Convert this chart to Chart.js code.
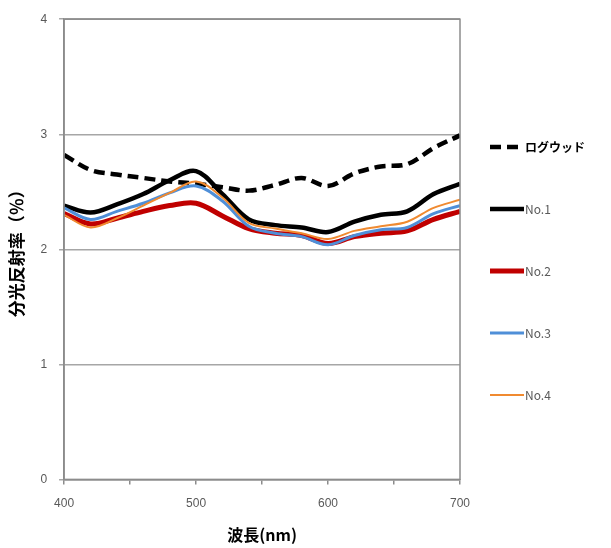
<!DOCTYPE html>
<html>
<head>
<meta charset="utf-8">
<script src="https://cdn.jsdelivr.net/npm/chart.js@4/dist/chart.umd.min.js"></script>
<style>
  html, body { margin: 0; padding: 0; background: #fff; }
  #wrap { width: 611px; height: 548px; }
</style>
</head>
<body>
<div id="wrap"><canvas id="myChart" width="611" height="548"></canvas></div>
<script>
// 波長 (nm), 20nm刻み
const wavelengths = [400, 420, 440, 460, 480, 500, 520, 540, 560, 580, 600, 620, 640, 660, 680, 700];
const seriesNames = ["ログウッド", "No.1", "No.2", "No.3", "No.4"];
const logwood = [2.82, 2.69, 2.65, 2.62, 2.59, 2.57, 2.54, 2.51, 2.56, 2.62, 2.55, 2.66, 2.72, 2.74, 2.88, 2.99];
const no1 = [2.38, 2.32, 2.39, 2.48, 2.60, 2.68, 2.48, 2.26, 2.21, 2.19, 2.15, 2.24, 2.30, 2.33, 2.48, 2.57];
const no2 = [2.31, 2.22, 2.27, 2.33, 2.38, 2.40, 2.29, 2.18, 2.14, 2.12, 2.05, 2.11, 2.14, 2.16, 2.26, 2.33];
const no3 = [2.36, 2.26, 2.33, 2.40, 2.49, 2.55, 2.42, 2.20, 2.14, 2.11, 2.04, 2.12, 2.17, 2.19, 2.31, 2.38];
const no4 = [2.30, 2.19, 2.27, 2.38, 2.49, 2.59, 2.45, 2.23, 2.18, 2.14, 2.09, 2.16, 2.20, 2.24, 2.36, 2.43];
const yTicks = [0, 1, 2, 3, 4];

const ctx = document.getElementById("myChart").getContext("2d");
const toXY = (arr) => arr.map((v, i) => ({ x: wavelengths[i], y: v }));

// 枠線 (プロットエリアの外周)
const frame = {
  id: "frame",
  afterDatasetsDraw(chart) {
    const a = chart.chartArea, c = chart.ctx;
    c.save();
    c.strokeStyle = "#8c8c8c";
    c.lineWidth = 1.5;
    c.strokeRect(a.left, a.top, a.right - a.left, a.bottom - a.top);
    c.restore();
  },
};

// 凡例 (右側に縦並び)
const sideLegend = {
  id: "sideLegend",
  afterDraw(chart) {
    const c = chart.ctx;
    const x0 = chart.chartArea.right + 30;
    chart.data.datasets.forEach((ds, i) => {
      const y = 147 + i * 62;
      c.save();
      c.strokeStyle = ds.borderColor;
      c.lineWidth = ds.borderWidth;
      c.setLineDash(ds.borderDash || []);
      c.beginPath();
      c.moveTo(x0, y);
      c.lineTo(x0 + 34, y);
      c.stroke();
      c.setLineDash([]);
      c.fillStyle = i === 0 ? "#000" : "#595959";
      c.font = (i === 0 ? "bold " : "") + "12px 'Noto Sans CJK JP', 'Liberation Sans'";
      c.textBaseline = "middle";
      c.fillText(ds.label, x0 + 35, y);
      c.restore();
    });
  },
};

const colors = ["#000000", "#000000", "#c00000", "#4f8fd8", "#f08a30"];
const widths = [4.5, 4.5, 5, 3, 2];
const dataArrays = [logwood, no1, no2, no3, no4];

const chart = new Chart(ctx, {
  type: "line",
  data: {
    datasets: seriesNames.map((name, i) => ({
      label: name,
      data: toXY(dataArrays[i]),
      borderColor: colors[i],
      backgroundColor: colors[i],
      borderWidth: widths[i],
      borderDash: i === 0 ? [11, 6] : [],
      pointRadius: 0,
      tension: 0.35,
      fill: false,
      order: 4 - i,
    })),
  },
  plugins: [frame, sideLegend],
  options: {
    responsive: false,
    animation: false,
    layout: { padding: { top: 12, right: 151, left: 6, bottom: 3 } },
    plugins: {
      legend: { display: false },
      tooltip: { enabled: false },
    },
    scales: {
      x: {
        type: "linear",
        min: 400,
        max: 700,
        ticks: {
          stepSize: 50,
          padding: 12,
          color: "#595959",
          font: { family: "'Liberation Sans'", size: 12 },
          callback: (v) => (v % 100 === 0 ? v : ""),
          maxRotation: 0,
        },
        grid: { drawOnChartArea: false, drawTicks: true, tickLength: 5, color: "#8c8c8c", lineWidth: 1.5 },
        border: { display: true, color: "#8c8c8c", width: 1.5 },
        title: {
          display: true,
          text: "波長(nm)",
          color: "#000",
          font: { family: "'Noto Sans CJK JP'", size: 16, weight: "bold" },
          padding: { top: 3, bottom: 0 },
        },
      },
      y: {
        min: 0,
        max: 4,
        afterBuildTicks: (axis) => { axis.ticks = yTicks.map((v) => ({ value: v })); },
        ticks: {
          padding: 12,
          color: "#595959",
          font: { family: "'Liberation Sans'", size: 12 },
        },
        grid: { color: "#a6a6a6", lineWidth: 1.5, tickLength: 5 },
        border: { display: true, color: "#8c8c8c", width: 1.5 },
        title: {
          display: true,
          text: "分光反射率（％）",
          color: "#000",
          font: { family: "'Noto Sans CJK JP'", size: 17, weight: "bold" },
          padding: { top: 0, bottom: 2 },
        },
      },
    },
  },
});
</script>
</body>
</html>
